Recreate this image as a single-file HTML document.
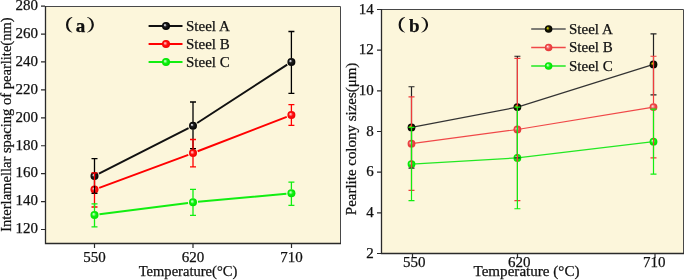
<!DOCTYPE html>
<html><head><meta charset="utf-8"><style>
html,body{margin:0;padding:0;background:#fff;width:685px;height:280px;overflow:hidden}
svg{display:block;will-change:transform}
text{font-family:"Liberation Serif",serif;fill:#111;stroke:#111;stroke-width:0.25px}
.tl{font-size:15px}
.lg{font-size:15px}
.tt{font-size:19px;font-weight:bold}
</style></head><body>
<svg width="685" height="280" viewBox="0 0 685 280">
<defs>
<radialGradient id="gk" cx="0.5" cy="0.5" r="0.5" fx="0.34" fy="0.36"><stop offset="0" stop-color="#fff"/><stop offset="0.14" stop-color="#c8c8d0"/><stop offset="0.38" stop-color="#202020"/><stop offset="1" stop-color="#000"/></radialGradient>
<radialGradient id="gr" cx="0.5" cy="0.5" r="0.5" fx="0.36" fy="0.36"><stop offset="0" stop-color="#ffe8e8"/><stop offset="0.2" stop-color="#ff9090"/><stop offset="0.5" stop-color="#ff1010"/><stop offset="1" stop-color="#f00000"/></radialGradient>
<radialGradient id="gg" cx="0.5" cy="0.5" r="0.5" fx="0.36" fy="0.36"><stop offset="0" stop-color="#e8ffe8"/><stop offset="0.2" stop-color="#90ff90"/><stop offset="0.5" stop-color="#10f010"/><stop offset="1" stop-color="#00e000"/></radialGradient>
<radialGradient id="gk2" cx="0.5" cy="0.5" r="0.5" fx="0.34" fy="0.36"><stop offset="0" stop-color="#e8e800"/><stop offset="0.2" stop-color="#a0a000"/><stop offset="0.45" stop-color="#1a1a00"/><stop offset="1" stop-color="#000"/></radialGradient>
<radialGradient id="gr2" cx="0.5" cy="0.5" r="0.5" fx="0.36" fy="0.36"><stop offset="0" stop-color="#fff0f0"/><stop offset="0.22" stop-color="#f8a0a0"/><stop offset="0.55" stop-color="#ee4848"/><stop offset="1" stop-color="#e43838"/></radialGradient>
<radialGradient id="gg2" cx="0.5" cy="0.5" r="0.5" fx="0.36" fy="0.36"><stop offset="0" stop-color="#e8ffe8"/><stop offset="0.2" stop-color="#90ff90"/><stop offset="0.5" stop-color="#10f010"/><stop offset="1" stop-color="#00e000"/></radialGradient>
</defs>
<rect x="45" y="6" width="295" height="237" fill="#FCF6DB"/>
<rect x="381" y="9" width="302" height="244" fill="#FCF6DB"/>
<path d="M45.5 6.5H340.5V243.5" stroke="#484848" stroke-width="1" fill="none"/>
<path d="M45.5 6V243.5H341" stroke="#2a2a2a" stroke-width="1.3" fill="none"/>
<path d="M381.5 9.5H683.5V253.5" stroke="#484848" stroke-width="1" fill="none"/>
<path d="M381.5 9V253.5H684" stroke="#2a2a2a" stroke-width="1.3" fill="none"/>
<path d="M41 229.51H45M41 201.58H45M41 173.66H45M41 145.73H45M41 117.8H45M41 89.88H45M41 61.95H45M41 34.03H45M41 6.1H45M94.5 244V248M193 244V248M291.5 244V248M377 253.5H381M377 212.83H381M377 172.17H381M377 131.5H381M377 90.83H381M377 50.17H381M377 9.5H381M412.5 254V258M517.5 254V258M655 254V258" stroke="#2a2a2a" stroke-width="1.2" fill="none"/>
<path d="M98.95 173.73L188.55 128.02M197.19 123.03L287.21 64.62" stroke="#111" stroke-width="2" fill="none"/>
<circle cx="94.5" cy="176" r="4" fill="url(#gk)"/>
<circle cx="193" cy="125.75" r="4" fill="url(#gk)"/>
<circle cx="291.4" cy="61.9" r="4" fill="url(#gk)"/>
<path d="M99.19 187.86L188.31 154.84M197.66 151.29L286.74 116.81" stroke="#f00" stroke-width="2" fill="none"/>
<circle cx="94.5" cy="189.6" r="4" fill="url(#gr)"/>
<circle cx="193" cy="153.1" r="4" fill="url(#gr)"/>
<circle cx="291.4" cy="115" r="4" fill="url(#gr)"/>
<path d="M99.46 214.36L188.04 202.94M197.98 201.84L286.42 193.66" stroke="#11ee11" stroke-width="2" fill="none"/>
<circle cx="94.5" cy="215" r="4" fill="url(#gg)"/>
<circle cx="193" cy="202.3" r="4" fill="url(#gg)"/>
<circle cx="291.4" cy="193.2" r="4" fill="url(#gg)"/>
<path d="M94.5 158.6V172.2M94.5 179.8V193.4M91.5 158.6H97.5M91.5 193.4H97.5M193 102V121.95M193 129.55V148.6M190 102H196M190 148.6H196M291.4 31.5V58.1M291.4 65.7V93.3M288.4 31.5H294.4M288.4 93.3H294.4" stroke="#000" stroke-width="1.3" fill="none"/>
<path d="M94.5 172.9V185.8M94.5 193.4V207M91.5 172.9H97.5M91.5 207H97.5M193 139.5V149.3M193 156.9V166.9M190 139.5H196M190 166.9H196M291.4 104.7V111.2M291.4 118.8V125.3M288.4 104.7H294.4M288.4 125.3H294.4" stroke="#f00" stroke-width="1.3" fill="none"/>
<path d="M94.5 203.8V211.2M94.5 218.8V226.8M91.5 203.8H97.5M91.5 226.8H97.5M193 189.3V198.5M193 206.1V215.4M190 189.3H196M190 215.4H196M291.4 182.1V189.4M291.4 197V205.4M288.4 182.1H294.4M288.4 205.4H294.4" stroke="#11ee11" stroke-width="1.3" fill="none"/>
<polyline points="411.5,127.43 517.4,107.1 653.5,64.4" stroke="#333" stroke-width="1.2" fill="none"/>
<circle cx="411.5" cy="127.43" r="3.9" fill="url(#gk2)"/>
<circle cx="517.4" cy="107.1" r="3.9" fill="url(#gk2)"/>
<circle cx="653.5" cy="64.4" r="3.9" fill="url(#gk2)"/>
<polyline points="411.5,143.7 517.4,129.47 653.5,107.1" stroke="#f04848" stroke-width="1.2" fill="none"/>
<circle cx="411.5" cy="143.7" r="3.9" fill="url(#gr2)"/>
<circle cx="517.4" cy="129.47" r="3.9" fill="url(#gr2)"/>
<circle cx="653.5" cy="107.1" r="3.9" fill="url(#gr2)"/>
<polyline points="411.5,164.03 517.4,157.93 653.5,141.67" stroke="#22e822" stroke-width="1.2" fill="none"/>
<circle cx="411.5" cy="164.03" r="3.9" fill="url(#gg2)"/>
<circle cx="517.4" cy="157.93" r="3.9" fill="url(#gg2)"/>
<circle cx="653.5" cy="141.67" r="3.9" fill="url(#gg2)"/>
<path d="M411.5 86.77V123.73M411.5 131.13V168.1M408.5 86.77H414.5M408.5 168.1H414.5M517.4 56.27V103.4M517.4 110.8V157.93M514.4 56.27H520.4M514.4 157.93H520.4M653.5 33.9V60.7M653.5 68.1V94.9M650.5 33.9H656.5M650.5 94.9H656.5" stroke="#222" stroke-width="1.2" fill="none"/>
<path d="M411.5 96.93V140M411.5 147.4V190.47M408.5 96.93H414.5M408.5 190.47H414.5M517.4 58.3V125.77M517.4 133.17V200.63M514.4 58.3H520.4M514.4 200.63H520.4M653.5 56.27V103.4M653.5 110.8V157.93M650.5 56.27H656.5M650.5 157.93H656.5" stroke="#f03c3c" stroke-width="1.2" fill="none"/>
<path d="M411.5 127.43V160.33M411.5 167.73V200.63M408.5 127.43H414.5M408.5 200.63H414.5M517.4 107.1V154.23M517.4 161.63V208.77M514.4 107.1H520.4M514.4 208.77H520.4M653.5 109.13V137.97M653.5 145.37V174.2M650.5 109.13H656.5M650.5 174.2H656.5" stroke="#11ee11" stroke-width="1.2" fill="none"/>
<path d="M148.6 26H182.5" stroke="#111" stroke-width="2"/>
<circle cx="166" cy="26" r="4" fill="url(#gk)"/>
<text x="186" y="31.1" class="lg">Steel A</text>
<path d="M148.6 44.1H182.5" stroke="#f00" stroke-width="2"/>
<circle cx="166" cy="44.1" r="4" fill="url(#gr)"/>
<text x="186" y="49.2" class="lg">Steel B</text>
<path d="M148.6 62.05H182.5" stroke="#11ee11" stroke-width="2"/>
<circle cx="166" cy="62.05" r="4" fill="url(#gg)"/>
<text x="186" y="67.15" class="lg">Steel C</text>
<path d="M531.2 29.05H565.7" stroke="#555" stroke-width="1.5"/>
<circle cx="548.6" cy="29.05" r="3.8" fill="url(#gk2)"/>
<text x="569" y="33.65" class="lg">Steel A</text>
<path d="M531.2 47.5H565.7" stroke="#f04848" stroke-width="1.5"/>
<circle cx="548.6" cy="47.5" r="3.8" fill="url(#gr2)"/>
<text x="569" y="52.1" class="lg">Steel B</text>
<path d="M531.2 66H565.7" stroke="#22e822" stroke-width="1.5"/>
<circle cx="548.6" cy="66" r="3.8" fill="url(#gg2)"/>
<text x="569" y="70.6" class="lg">Steel C</text>
<text x="38" y="233.31" class="tl" text-anchor="end">120</text>
<text x="38" y="205.38" class="tl" text-anchor="end">140</text>
<text x="38" y="177.46" class="tl" text-anchor="end">160</text>
<text x="38" y="149.53" class="tl" text-anchor="end">180</text>
<text x="38" y="121.6" class="tl" text-anchor="end">200</text>
<text x="38" y="93.68" class="tl" text-anchor="end">220</text>
<text x="38" y="65.75" class="tl" text-anchor="end">240</text>
<text x="38" y="37.83" class="tl" text-anchor="end">260</text>
<text x="38" y="9.9" class="tl" text-anchor="end">280</text>
<text x="94.5" y="262.2" class="tl" text-anchor="middle">550</text>
<text x="193" y="262.2" class="tl" text-anchor="middle">620</text>
<text x="291.5" y="262.2" class="tl" text-anchor="middle">710</text>
<text x="373.8" y="257.5" class="tl" text-anchor="end">2</text>
<text x="373.8" y="216.83" class="tl" text-anchor="end">4</text>
<text x="373.8" y="176.17" class="tl" text-anchor="end">6</text>
<text x="373.8" y="135.5" class="tl" text-anchor="end">8</text>
<text x="373.8" y="94.83" class="tl" text-anchor="end">10</text>
<text x="373.8" y="54.17" class="tl" text-anchor="end">12</text>
<text x="373.8" y="13.5" class="tl" text-anchor="end">14</text>
<text x="414.3" y="267" class="tl" text-anchor="middle">550</text>
<text x="519.3" y="267" class="tl" text-anchor="middle">620</text>
<text x="654.3" y="267" class="tl" text-anchor="middle">710</text>
<text x="188" y="275.9" class="tl" text-anchor="middle" textLength="98.6" lengthAdjust="spacingAndGlyphs">Temperature(°C)</text>
<text x="526.5" y="275.9" class="tl" text-anchor="middle" textLength="106" lengthAdjust="spacingAndGlyphs">Temperature (°C)</text>
<text transform="translate(11.0,124.6) rotate(-90)" class="tl" text-anchor="middle" textLength="214.5" lengthAdjust="spacingAndGlyphs">Interlamellar spacing of pearlite(nm)</text>
<text transform="translate(356.2,138.9) rotate(-90)" class="tl" text-anchor="middle" textLength="152.5" lengthAdjust="spacingAndGlyphs">Pearlite colony sizes(μm)</text>
<path d="M71.9 17A8.11 8.11 0 0 0 71.9 32.6L72.6 32.4A8.76 8.76 0 0 1 72.6 17.2Z" fill="#111"/>
<text x="75.8" y="32" class="tt">a</text>
<path d="M87.6 17A7.98 7.98 0 0 1 87.6 32.6L86.9 32.4A8.42 8.42 0 0 0 86.9 17.2Z" fill="#111"/>
<path d="M404.5 17A8.11 8.11 0 0 0 404.5 32.6L405.2 32.4A8.76 8.76 0 0 1 405.2 17.2Z" fill="#111"/>
<text x="409.1" y="32" class="tt">b</text>
<path d="M421.8 17A7.98 7.98 0 0 1 421.8 32.6L421.1 32.4A8.42 8.42 0 0 0 421.1 17.2Z" fill="#111"/>
</svg>
</body></html>
